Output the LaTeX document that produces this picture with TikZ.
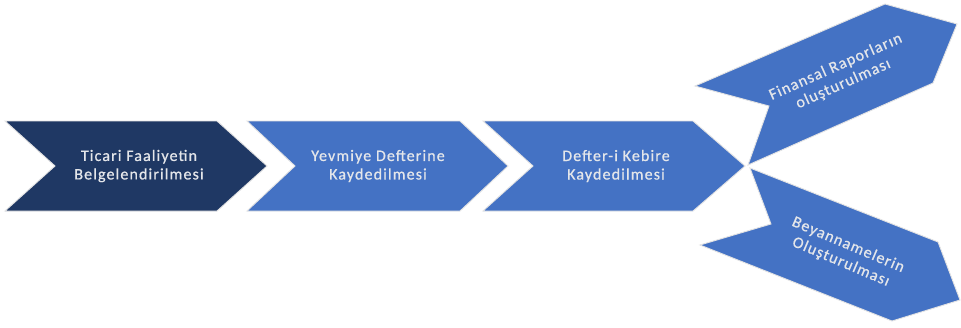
\documentclass[tikz,border=0pt]{standalone}
\usepackage{fontspec}
\newfontfamily\lblfont{Carlito}[LetterSpace=7,FakeBold=0.7]
\definecolor{navy}{RGB}{31,56,100}
\definecolor{stepblue}{RGB}{68,114,196}
\definecolor{txtgrey}{RGB}{228,230,234}
\tikzset{
  chev/.style={fill=stepblue, draw=white!78!gray, line width=0.9pt, line join=miter},
  lbl/.style={text=txtgrey, font=\lblfont\fontsize{16}{18.5}\selectfont, align=center, inner sep=0pt}
}
\begin{document}
\begin{tikzpicture}[x=1pt,y=-1pt]
\useasboundingbox[fill=white] (0,0) rectangle (961,327);
% horizontal chevrons
\path[chev, fill=navy] (5,121) -- (217,121) -- (267,166) -- (217,211) -- (5,211) -- (55,166) -- cycle;
\path[chev] (247,121) -- (460,121) -- (508,166) -- (460,211) -- (247,211) -- (295,166) -- cycle;
\path[chev] (483,121) -- (693,121) -- (745,166) -- (693,211) -- (483,211) -- (533,166) -- cycle;
% branching chevrons
\path[chev] (695,86) -- (885,4) -- (957,24) -- (933,83) -- (748,165) -- (769,106) -- cycle;
\path[chev] (750,168) -- (938,242) -- (960,300) -- (892,321) -- (700,245) -- (771,224) -- cycle;
% labels
\node[lbl] (s1) at (139,166) {Ticari Faaliyetin\\Belgelendirilmesi};
\node[lbl] (s2) at (378,166) {Yevmiye Defterine\\Kaydedilmesi};
\node[lbl] (s3) at (616,166) {Defter-i Kebire\\Kaydedilmesi};
\node[lbl, rotate=24] (s4) at (839.5,75.5) {Finansal Raporların\\oluşturulması};
\node[lbl, rotate=-23] (s5) at (844.5,253.5) {Beyannamelerin\\Oluşturulması};
\end{tikzpicture}
\end{document}
